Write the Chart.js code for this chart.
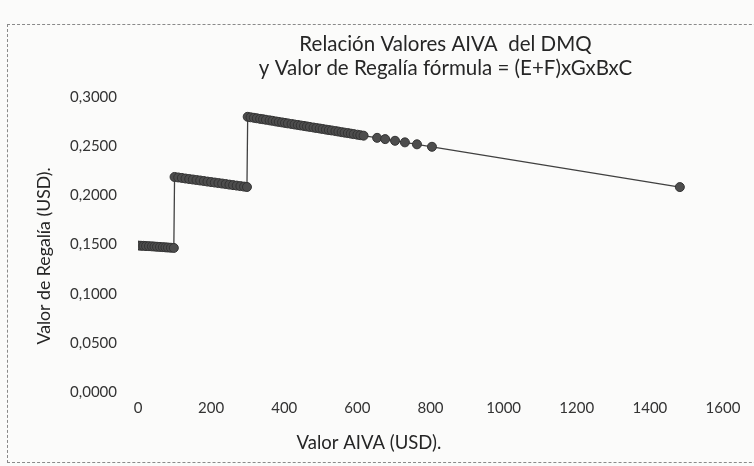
<!DOCTYPE html>
<html>
<head>
<meta charset="utf-8">
<script src="https://cdn.jsdelivr.net/npm/chart.js@4"></script>
<style>
  body { margin: 0; background: #fbfbfa; }
  #wrap { position: relative; width: 754px; height: 466px; overflow: hidden; }
  #frame { position: absolute; left: 7px; top: 24px; width: 800px; height: 439px;
           border: 1px dashed #8a8a8a; box-sizing: border-box; }
  canvas { position: absolute; left: 0; top: 0; }
</style>
</head>
<body>
<div id="wrap">
  <div id="frame"></div>
  <canvas id="graph-canvas" width="754" height="466"></canvas>
</div>
<script>
// Valor AIVA (USD) and Valor de Regalía (USD)
let aiva = [
  0, 8, 15, 22, 30, 38, 45, 52, 60, 68, 75, 82, 90, 98,
  100, 110, 120, 130, 140, 150, 160, 170, 180, 190, 200, 210, 220, 230, 240, 250, 260, 270, 280, 290, 298,
  300, 308, 317, 325, 334, 342, 350, 360, 368, 377, 385, 394, 402, 410, 420, 428, 437, 445, 454,
  462, 470, 480, 488, 497, 505, 514, 522, 530, 540, 548, 557, 565, 574, 582, 590, 600, 608, 617,
  654, 676, 703, 730, 763, 804, 1482
];
let regalia = [
  0.1490, 0.1488, 0.1487, 0.1485, 0.1484, 0.1482, 0.1480, 0.1478, 0.1476, 0.1474, 0.1472, 0.1470, 0.1468, 0.1466,
  0.2188, 0.2183, 0.2178, 0.2172, 0.2167, 0.2162, 0.2157, 0.2152, 0.2147, 0.2141, 0.2136, 0.2131, 0.2126, 0.2121,
  0.2116, 0.2110, 0.2105, 0.2100, 0.2095, 0.2090, 0.2086,
  0.2800, 0.2795, 0.2790, 0.2785, 0.2779, 0.2775, 0.2770, 0.2764, 0.2759, 0.2753, 0.2748, 0.2743, 0.2738, 0.2733,
  0.2727, 0.2722, 0.2717, 0.2712, 0.2707, 0.2702, 0.2697, 0.2691, 0.2686, 0.2681, 0.2676, 0.2670, 0.2665, 0.2661,
  0.2655, 0.2650, 0.2644, 0.2639, 0.2634, 0.2629, 0.2624, 0.2618, 0.2613, 0.2608,
  0.2586, 0.2573, 0.2556, 0.2540, 0.2520, 0.2495, 0.2085
];
let xTicks = [0, 200, 400, 600, 800, 1000, 1200, 1400, 1600];
let yTicks = [0, 0.05, 0.10, 0.15, 0.20, 0.25, 0.30];

let titleLines = ['Relación Valores AIVA  del DMQ', 'y Valor de Regalía fórmula = (E+F)xGxBxC'];
// trailing no-break spaces push the axis titles off centre, as in the scan
let xTitle = 'Valor AIVA (USD).' + '\u00a0'.repeat(26);
let yTitle = 'Valor de Regalía (USD).' + '\u00a0'.repeat(5);

// the title in the scan sits a bit right of the plot centre
const shiftTitle = {
  id: 'shiftTitle',
  afterLayout(chart) {
    if (chart.titleBlock) {
      chart.titleBlock.left += 15;
      chart.titleBlock.right += 15;
    }
  }
};

function showGraph() {
  let points = [];
  for (let i in aiva) {
    points.push({ x: aiva[i], y: regalia[i] });
  }
  let chartdata = {
    datasets: [
      {
        label: 'Valor de Regalía',
        data: points,
        showLine: true,
        borderColor: '#404040',
        borderWidth: 1.3,
        backgroundColor: '#4d4d4d',
        pointBorderColor: '#333333',
        pointBorderWidth: 1,
        pointRadius: 4.5
      }
    ]
  };
  let fontFamily = 'Lato, "Open Sans", sans-serif';
  new Chart(document.getElementById('graph-canvas'), {
    type: 'scatter',
    data: chartdata,
    plugins: [shiftTitle],
    options: {
      responsive: false,
      animation: false,
      layout: { padding: { left: 34, right: 31, top: 33, bottom: 12 } },
      plugins: {
        legend: { display: false },
        tooltip: { enabled: false },
        title: {
          display: true,
          fullSize: false,
          text: titleLines,
          color: '#262626',
          font: { size: 20.5, family: fontFamily, weight: 'normal', lineHeight: 1.15 },
          padding: { top: 0, bottom: 17 }
        }
      },
      scales: {
        x: {
          type: 'linear',
          min: xTicks[0],
          max: xTicks[xTicks.length - 1],
          afterBuildTicks: function (axis) {
            axis.ticks = xTicks.map(v => ({ value: v }));
          },
          afterFit: function (axis) {
            axis.height = 62;
          },
          grid: { display: false, drawTicks: false },
          border: { display: false },
          ticks: {
            color: '#333333',
            padding: 7,
            font: { size: 15, family: fontFamily },
            callback: v => String(v)
          },
          title: {
            display: true,
            text: xTitle,
            color: '#262626',
            font: { size: 18.5, family: fontFamily },
            padding: { top: 15, bottom: 0 }
          }
        },
        y: {
          min: yTicks[0],
          max: yTicks[yTicks.length - 1],
          afterBuildTicks: function (axis) {
            axis.ticks = yTicks.map(v => ({ value: v }));
          },
          afterFit: function (axis) {
            axis.width = 104;
          },
          grid: { display: false, drawTicks: false },
          border: { display: false },
          ticks: {
            color: '#333333',
            padding: 21,
            font: { size: 15, family: fontFamily },
            callback: v => v.toFixed(4).replace('.', ',')
          },
          title: {
            display: true,
            text: yTitle,
            color: '#262626',
            font: { size: 17.7, family: fontFamily },
            padding: { top: 0, bottom: 14 }
          }
        }
      }
    }
  });
}
showGraph();
</script>
</body>
</html>
